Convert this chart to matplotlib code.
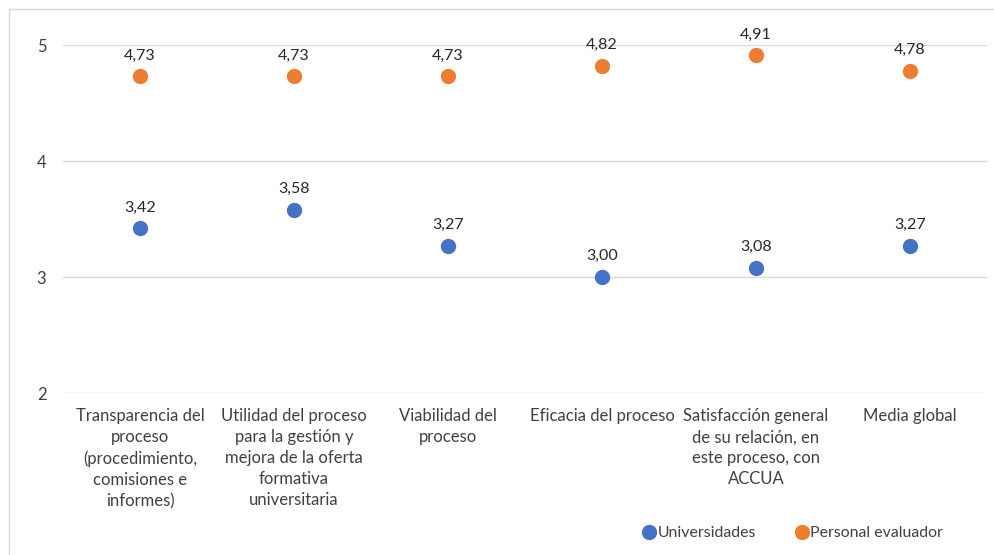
import matplotlib
matplotlib.use('Agg')
import matplotlib.pyplot as plt
from matplotlib.patches import Rectangle
from matplotlib.lines import Line2D

plt.rcParams['font.family'] = ['Lato', 'DejaVu Sans']

categories = ['Transparencia del\nproceso\n(procedimiento,\ncomisiones e\ninformes)',
              'Utilidad del proceso\npara la gestión y\nmejora de la oferta\nformativa\nuniversitaria',
              'Viabilidad del\nproceso',
              'Eficacia del proceso',
              'Satisfacción general\nde su relación, en\neste proceso, con\nACCUA',
              'Media global']
universidades = [3.42, 3.58, 3.27, 3.00, 3.08, 3.27]
evaluador = [4.73, 4.73, 4.73, 4.82, 4.91, 4.78]
series_names = ['Universidades', 'Personal evaluador']
colors = ['#4472C4', '#ED7D31']
yticks = [2, 3, 4, 5]

W, H = 994, 555
fig = plt.figure(figsize=(W / 100, H / 100), dpi=100)
ax = fig.add_axes([63 / W, 1 - 393 / H, (987 - 63) / W, (393 - 45) / H])

# outer chart border
fig.patches.append(Rectangle((9 / W, -0.01), 1.0, 1 - 9 / H + 0.01, transform=fig.transFigure,
                             fill=False, edgecolor='#D9D9D9', linewidth=1.0))

x = list(range(len(categories)))
for vals, col in zip([universidades, evaluador], colors):
    ax.plot(x, vals, linestyle='none', marker='o', markersize=10, color=col, zorder=3)
    for xi, v in zip(x, vals):
        ax.annotate(f'{v:.2f}'.replace('.', ','), (xi, v), xytext=(0, 10), textcoords='offset points',
                    ha='center', va='bottom', fontsize=11.5, color='#262626')

ax.set_xlim(-0.5, len(categories) - 0.5)
ax.set_ylim(2, 5)
ax.set_yticks(yticks)
ax.set_yticklabels([str(t) for t in yticks])
ax.set_xticks(x)
ax.set_xticklabels(categories, fontsize=12, color='#262626', linespacing=1.38)
ax.tick_params(axis='both', length=0, colors='#404040', labelsize=12)
ax.tick_params(axis='y', pad=12)
ax.tick_params(axis='x', pad=11)
ax.grid(axis='y', color='#D9D9D9', linewidth=1)
ax.set_axisbelow(True)
for s in ax.spines.values():
    s.set_visible(False)

handles = [Line2D([], [], linestyle='none', marker='o', markersize=10, color=c) for c in colors]
fig.legend(handles, series_names, loc='center', bbox_to_anchor=(792 / W, 1 - 533 / H), ncol=2,
           frameon=False, fontsize=11.4, handletextpad=0.0, columnspacing=2.4, handlelength=1.0,
           labelcolor='#404040')

fig.savefig('out.png', dpi=100)
